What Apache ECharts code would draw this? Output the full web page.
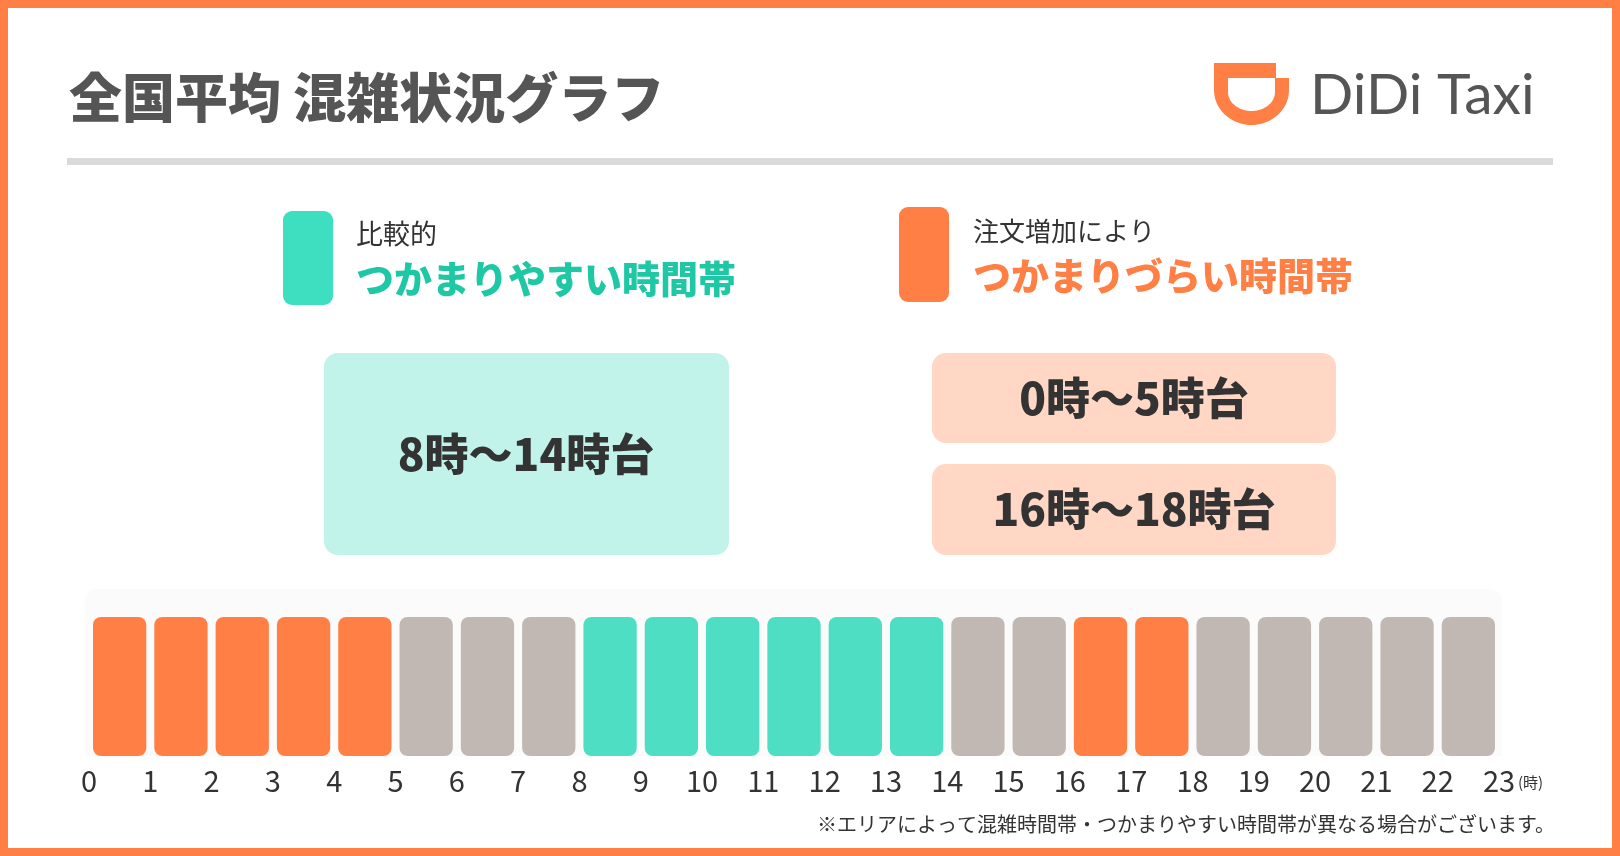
<!DOCTYPE html>
<html><head><meta charset="utf-8">
<script src="https://cdn.jsdelivr.net/npm/echarts@6/dist/echarts.min.js"></script>
<style>html,body{margin:0;padding:0;background:#fff}#c{width:1620px;height:856px}</style>
</head><body><div id="c"></div>
<script>
// ---- data ----
const hours = [0,1,2,3,4,5,6,7,8,9,10,11,12,13,14,15,16,17,18,19,20,21,22];
const status = ['busy','busy','busy','busy','busy','normal','normal','normal','easy','easy','easy','easy','easy','easy','normal','normal','busy','busy','normal','normal','normal','normal','normal'];
const level = [1,1,1,1,1,1,1,1,1,1,1,1,1,1,1,1,1,1,1,1,1,1,1];
const tickLabels = ['0','1','2','3','4','5','6','7','8','9','10','11','12','13','14','15','16','17','18','19','20','21','22','23'];
const title = '全国平均 混雑状況グラフ';
const easyLegend = ['比較的', 'つかまりやすい時間帯'];
const busyLegend = ['注文増加により', 'つかまりづらい時間帯'];
const easyRanges = ['8時〜14時台'];
const busyRanges = ['0時〜5時台', '16時〜18時台'];
const unitLabel = '(時)';
const footnote = '※エリアによって混雑時間帯・つかまりやすい時間帯が異なる場合がございます。';

// ---- styles ----
const C = {orange:'#ff7f45', gray:'#c1b8b4', teal:'#4ddec3', tealLegend:'#3ddfc0', tealText:'#1ec8a5',
           tealBox:'#c2f3eb', orangeBox:'#ffd7c4', text:'#333333', title:'#555555', rule:'#dadada'};
const statusColor = {busy:C.orange, normal:C.gray, easy:C.teal};
const JP = '"Noto Sans CJK JP", "Noto Sans", sans-serif';

// logo outline helper (decoration only)
function uShape(head, cx, rx, ry, yArc) {
  const pts = head.slice();
  for (let k = 0; k <= 40; k++) {
    const t = Math.PI * k / 40;
    pts.push([cx + rx * Math.cos(t), yArc + ry * Math.sin(t)]);
  }
  return pts;
}

const chart = echarts.init(document.getElementById('c'));

function renderBar(params, api) {
  const h = api.value(0);
  const topLeft = api.coord([h, api.value(1)]);
  const botRight = api.coord([h + 1, 0]);
  const gap = 8;
  return {
    type: 'rect',
    shape: {x: topLeft[0] + gap/2, y: topLeft[1], width: botRight[0] - topLeft[0] - gap, height: botRight[1] - topLeft[1], r: 8},
    style: {fill: statusColor[status[params.dataIndex]]}
  };
}

const graphics = [
  {type:'rect', z:-10, shape:{x:4, y:4, width:1612, height:848}, style:{fill:'#fff', stroke:C.orange, lineWidth:8}},
  {type:'text', x:69, y:98, style:{text:title, font:'900 53px ' + JP, fill:C.title, verticalAlign:'middle'}},
  // logo
  {type:'polygon', shape:{points: uShape([[1214,63],[1276,63],[1276,78],[1289,78]], 1251.5, 37.5, 35, 90)}, style:{fill:C.orange}},
  {type:'polygon', shape:{points: uShape([[1228,78],[1275,78]], 1251.5, 23.5, 19, 92)}, style:{fill:'#fff'}},
  {type:'text', x:1310, y:96, style:{text:'DiDi Taxi', font:'400 57px Lato, "Open Sans", sans-serif', fill:C.title, verticalAlign:'middle'}},
  {type:'rect', shape:{x:67, y:158, width:1486, height:7}, style:{fill:C.rule}},
  // legend
  {type:'rect', shape:{x:283, y:211, width:50, height:94, r:9}, style:{fill:C.tealLegend}},
  {type:'text', x:356, y:234, style:{text:easyLegend[0], font:'400 27px ' + JP, fill:C.text, verticalAlign:'middle'}},
  {type:'text', x:356, y:279, style:{text:easyLegend[1], font:'900 38px ' + JP, fill:C.tealText, verticalAlign:'middle'}},
  {type:'rect', shape:{x:899, y:207, width:50, height:95, r:9}, style:{fill:C.orange}},
  {type:'text', x:973, y:231, style:{text:busyLegend[0], font:'400 26px ' + JP, fill:C.text, verticalAlign:'middle'}},
  {type:'text', x:973, y:276, style:{text:busyLegend[1], font:'900 38px ' + JP, fill:C.orange, verticalAlign:'middle'}},
  // range boxes
  {type:'rect', shape:{x:324, y:353, width:405, height:202, r:14}, style:{fill:C.tealBox}},
  {type:'text', x:526, y:454, style:{text:easyRanges[0], font:'900 44px ' + JP, fill:C.text, align:'center', verticalAlign:'middle'}},
  {type:'rect', shape:{x:932, y:353, width:404, height:90, r:14}, style:{fill:C.orangeBox}},
  {type:'text', x:1134, y:398, style:{text:busyRanges[0], font:'900 44px ' + JP, fill:C.text, align:'center', verticalAlign:'middle'}},
  {type:'rect', shape:{x:932, y:464, width:404, height:91, r:14}, style:{fill:C.orangeBox}},
  {type:'text', x:1134, y:509, style:{text:busyRanges[1], font:'900 44px ' + JP, fill:C.text, align:'center', verticalAlign:'middle'}},
  // bar panel background
  {type:'rect', z:-5, shape:{x:85, y:589, width:1417, height:167, r:[12,12,0,0]}, style:{fill:'#fbfbfb'}},
  {type:'text', x:1518, y:782, style:{text:unitLabel, font:'400 15px ' + JP, fill:C.text, verticalAlign:'middle'}},
  {type:'text', x:1555, y:824, style:{text:footnote, font:'400 20px ' + JP, fill:C.text, align:'right', verticalAlign:'middle'}}
];

chart.setOption({
  animation: false,
  backgroundColor: '#fff',
  grid: {left: 89, right: 121, top: 617, bottom: 100},
  xAxis: {
    type: 'value', min: 0, max: 23, interval: 1,
    axisLine: {show: false}, axisTick: {show: false}, splitLine: {show: false},
    axisLabel: {show: true, showMinLabel: true, showMaxLabel: true, margin: 10,
      formatter: v => tickLabels[v], fontSize: 29, fontFamily: JP, color: C.text}
  },
  yAxis: {type: 'value', min: 0, max: 1, show: false},
  series: [{
    type: 'custom',
    renderItem: renderBar,
    encode: {x: 0, y: 1},
    data: hours.map((h, i) => [h, level[i]])
  }],
  graphic: graphics
});
</script></body></html>
